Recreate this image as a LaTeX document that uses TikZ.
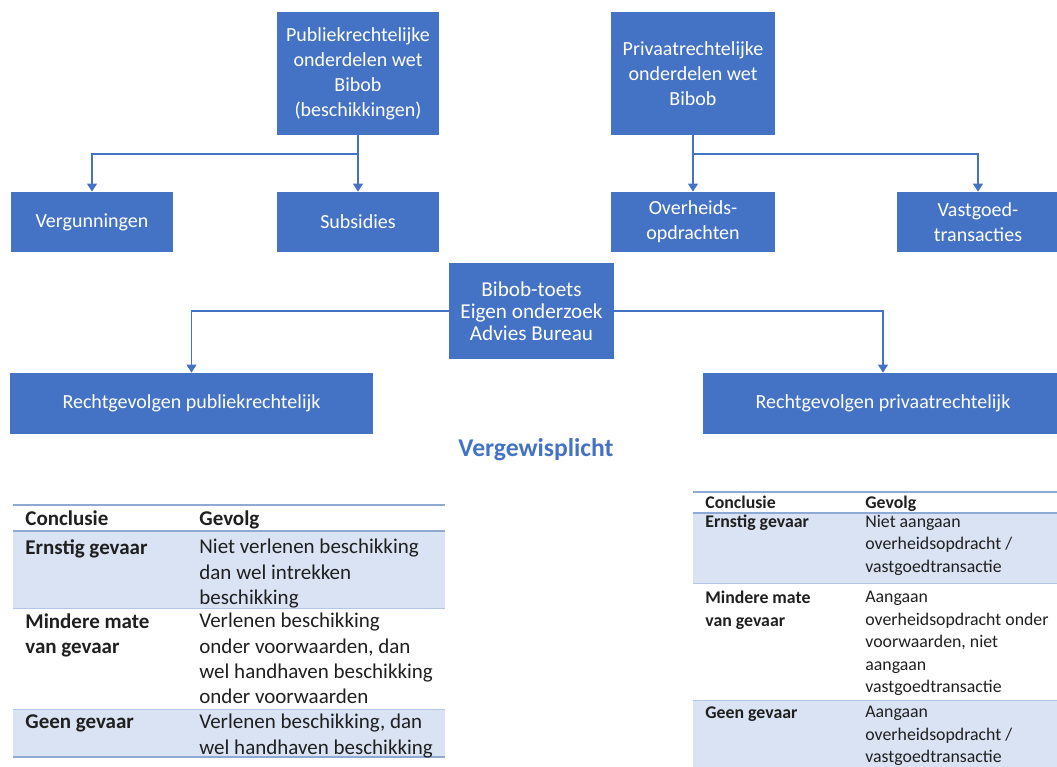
\documentclass[tikz,border=0pt]{standalone}
\usepackage{fontspec}
\setmainfont{Carlito}
\usetikzlibrary{arrows.meta}
\definecolor{boxBlue}{HTML}{4472C4}
\definecolor{rowBlue}{HTML}{DAE3F3}
\definecolor{ruleBlue}{HTML}{8EA9D4}
\definecolor{lineBlue}{HTML}{B4C6E7}
\definecolor{textBlack}{gray}{0.12}

\begin{document}
\begin{tikzpicture}[x=0.5pt, y=-0.5pt, >={Triangle[width=5pt,length=4pt]},
    blok/.style={fill=boxBlue, text=white, align=center, inner sep=1pt, font=\fontsize{10}{12.5}\selectfont},
    conn/.style={->, boxBlue, line width=0.6pt},
    cel/.style={anchor=north west, inner sep=0pt, align=left, text=textBlack},
    celL/.style={cel, font=\fontsize{10.5}{12.6}\selectfont},
    celR/.style={cel, font=\fontsize{8.9}{11.25}\selectfont}]
    \useasboundingbox (0,0) rectangle (1057,767);

    \node[blok, minimum width=81pt, minimum height=61.5pt] (pub) at (358,73.5) {Publiekrechtelijke\\onderdelen wet\\Bibob\\(beschikkingen)};
    \node[blok, minimum width=82pt, minimum height=61.5pt] (priv) at (693,73.5) {Privaatrechtelijke\\onderdelen wet\\Bibob};
    \node[blok, minimum width=81pt, minimum height=30pt] (verg) at (92,222) {Vergunningen};
    \node[blok, minimum width=81pt, minimum height=30pt] (subs) at (358,222) {Subsidies};
    \node[blok, minimum width=82pt, minimum height=30pt] (overh) at (693,222) {Overheids-\\opdrachten};
    \node[blok, minimum width=81pt, minimum height=30pt] (vastg) at (978,222) {Vastgoed-\\transacties};
    \node[blok, minimum width=82.5pt, minimum height=48pt, font=\fontsize{10.6}{11}\selectfont] (bibob) at (531.5,311) {Bibob-toets\\Eigen onderzoek\\Advies Bureau};
    \node[blok, minimum width=181.5pt, minimum height=30.5pt] (rpub) at (191.5,403.5) {Rechtgevolgen publiekrechtelijk};
    \node[blok, minimum width=180pt, minimum height=30.5pt] (rpriv) at (883,403.5) {Rechtgevolgen privaatrechtelijk};

    \coordinate (pubsplit) at (358,154);
    \coordinate (privsplit) at (693,154);
    \draw[conn] (pub.south) -- (subs.north);
    \draw[conn] (pubsplit) -| (verg.north);
    \draw[conn] (priv.south) -- (overh.north);
    \draw[conn] (privsplit) -| (vastg.north);
    \draw[conn] (bibob.west) -| (rpub.north);
    \draw[conn] (bibob.east) -| (rpriv.north);

    \node[text=boxBlue, font=\fontsize{12.8}{15}\selectfont\bfseries] (vergewis) at (536,450) {Vergewisplicht};

    \fill[rowBlue] (13,531) rectangle (445,608);
    \fill[rowBlue] (13,709) rectangle (445,757);
    \draw[lineBlue, line width=0.5pt] (13,608) -- (445,608) (13,709) -- (445,709);
    \draw[ruleBlue, line width=0.9pt] (13,505) -- (445,505) (13,531) -- (445,531) (13,757) -- (445,757);
    \node[celL] (lc0) at (25,510) {\bfseries Conclusie};
    \node[celL] (lg0) at (199,510) {\bfseries Gevolg};
    \node[celL] (lc1) at (25,539) {\bfseries Ernstig gevaar};
    \node[celL] (lg1) at (199,539) {Niet verlenen beschikking\\dan wel intrekken\\beschikking};
    \node[celL] (lc2) at (25,613) {\bfseries Mindere mate\\\bfseries van gevaar};
    \node[celL] (lg2) at (199,613) {Verlenen beschikking\\onder voorwaarden, dan\\wel handhaven beschikking\\onder voorwaarden};
    \node[celL] (lc3) at (25,714) {\bfseries Geen gevaar};
    \node[celL] (lg3) at (199,714) {Verlenen beschikking, dan\\wel handhaven beschikking};

    \fill[rowBlue] (693,513) rectangle (1057,583);
    \fill[rowBlue] (693,700) rectangle (1057,767);
    \draw[lineBlue, line width=0.5pt] (693,583) -- (1057,583) (693,700) -- (1057,700);
    \draw[ruleBlue, line width=0.9pt] (693,492) -- (1057,492) (693,513) -- (1057,513);
    \node[celR] (rc0) at (705,496) {\bfseries Conclusie};
    \node[celR] (rg0) at (865,496) {\bfseries Gevolg};
    \node[celR] (rc1) at (705,514.5) {\bfseries Ernstig gevaar};
    \node[celR] (rg1) at (865,514.5) {Niet aangaan\\overheidsopdracht /\\vastgoedtransactie};
    \node[celR] (rc2) at (705,591) {\bfseries Mindere mate\\\bfseries van gevaar};
    \node[celR] (rg2) at (865,591) {Aangaan\\overheidsopdracht onder\\voorwaarden, niet\\aangaan\\vastgoedtransactie};
    \node[celR] (rc3) at (705,706) {\bfseries Geen gevaar};
    \node[celR] (rg3) at (865,706) {Aangaan\\overheidsopdracht /\\vastgoedtransactie};
\end{tikzpicture}
\end{document}
